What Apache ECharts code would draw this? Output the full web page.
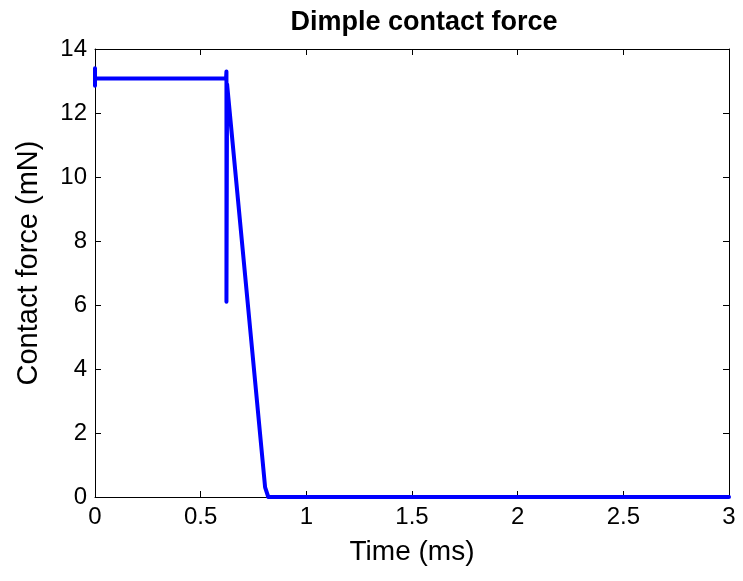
<!DOCTYPE html>
<html>
<head>
<meta charset="utf-8">
<script src="https://cdn.jsdelivr.net/npm/echarts@6/dist/echarts.min.js"></script>
<style>
  html, body { margin: 0; padding: 0; background: #fff; }
  #chart { width: 743px; height: 581px; }
</style>
</head>
<body>
<div id="chart"></div>
<script>
// time in ms
const timeMs = [0, 0, 0, 0.62, 0.622, 0.622, 0.625, 0.805, 0.82, 3];
// contact force in mN
const forceMn = [12.85, 13.4, 13.08, 13.08, 13.3, 6.1, 12.9, 0.3, 0, 0];

const xTicks = [0, 0.5, 1, 1.5, 2, 2.5, 3];
const yTicks = [0, 2, 4, 6, 8, 10, 12, 14];

const font = "Liberation Sans, Arial, Helvetica, sans-serif";
const data = timeMs.map((t, i) => [t, forceMn[i]]);

const chart = echarts.init(document.getElementById("chart"));

const axisBase = {
  type: "value",
  axisLine: { show: true, onZero: false, lineStyle: { color: "#000", width: 1 } },
  axisTick: { show: true, inside: true, length: 6, lineStyle: { color: "#000" } },
  splitLine: { show: false }
};

chart.setOption({
  animation: false,
  title: {
    text: "Dimple contact force",
    left: 419,
    top: 4,
    textAlign: "center",
    textStyle: { fontFamily: font, fontSize: 27, fontWeight: "bold", color: "#000" }
  },
  grid: { left: 95, right: 14, top: 49, bottom: 84, containLabel: false },
  xAxis: [
    Object.assign({}, axisBase, {
      position: "bottom",
      min: 0, max: 3, interval: 0.5,
      name: "Time (ms)",
      nameLocation: "middle",
      nameGap: 41,
      nameTextStyle: { fontFamily: font, fontSize: 28, color: "#000" },
      axisLabel: {
        fontFamily: font, fontSize: 24, color: "#000", margin: 8,
        formatter: v => (xTicks.includes(v) ? String(v) : "")
      }
    }),
    Object.assign({}, axisBase, {
      position: "top",
      min: 0, max: 3, interval: 0.5,
      axisLabel: { show: false }
    })
  ],
  yAxis: [
    Object.assign({}, axisBase, {
      position: "left",
      min: 0, max: 14, interval: 2,
      name: "Contact force (mN)",
      nameLocation: "middle",
      nameGap: 52,
      nameTextStyle: { fontFamily: font, fontSize: 29, color: "#000", padding: [0, 0, 0, 20] },
      axisLabel: {
        fontFamily: font, fontSize: 24, color: "#000", margin: 8,
        formatter: v => (yTicks.includes(v) ? String(v) : "")
      }
    }),
    Object.assign({}, axisBase, {
      position: "right",
      min: 0, max: 14, interval: 2,
      axisLabel: { show: false }
    })
  ],
  series: [
    {
      type: "line",
      data: data,
      showSymbol: false,
      lineStyle: { color: "#0000ff", width: 4, cap: "round", join: "round" },
      clip: false
    }
  ]
});
</script>
</body>
</html>
